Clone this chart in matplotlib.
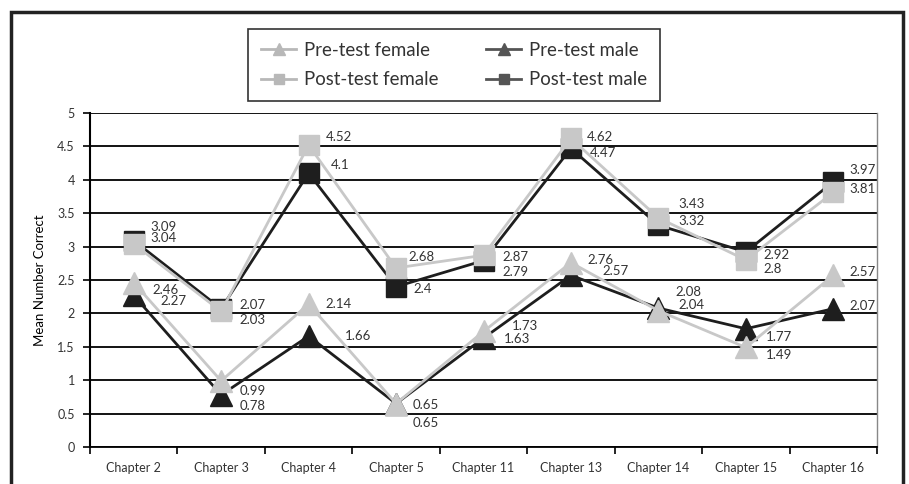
import numpy as np
import matplotlib
matplotlib.use("Agg")
import matplotlib.pyplot as plt
from matplotlib.patches import Rectangle

plt.rcParams['font.family'] = ['Lato', 'DejaVu Sans']

# --- Data ---
chapters = ["Chapter 2", "Chapter 3", "Chapter 4", "Chapter 5", "Chapter 11",
            "Chapter 13", "Chapter 14", "Chapter 15", "Chapter 16"]
pre_female = [2.46, 0.99, 2.14, 0.65, 1.73, 2.76, 2.04, 1.49, 2.57]
pre_male = [2.27, 0.78, 1.66, 0.65, 1.63, 2.57, 2.08, 1.77, 2.07]
post_female = [3.04, 2.03, 4.52, 2.68, 2.87, 4.62, 3.43, 2.8, 3.81]
post_male = [3.09, 2.07, 4.1, 2.4, 2.79, 4.47, 3.32, 2.92, 3.97]

# label nudges in pixels (dx right, dy up) - hand placed like the original
off_pre_female = [(19, -7), (18, -10), (17, 0), (17, -1), (28, 5), (16, 3), (20, 6), (20, -8), (16, 3)]
off_pre_male = [(27, -6), (18, -11), (36, 0), (17, -19), (20, -1), (31, 4), (17, 16), (20, -8), (16, 3)]
off_post_female = [(17, 6), (18, -9), (17, 8), (12, 11), (19, -2), (16, 1), (20, 14), (18, -9), (16, 3)]
off_post_male = [(17, 14), (18, 4), (22, 8), (17, -2), (19, -11), (19, -5), (20, 4), (18, -3), (16, 12)]

LIGHT = "#c8c8c8"
DARK = "#1e1e1e"
TXT = "#333333"

fig = plt.figure(figsize=(9.09, 4.84), dpi=100)
ax = fig.add_axes([90 / 909, 1 - 447 / 484, 787 / 909, 334 / 484])
x = np.arange(len(chapters))

# --- Lines (male first so female sits on top) ---
h_pm, = ax.plot(x, post_male, color=DARK, lw=2, marker="s", ms=14, zorder=3)
h_prm, = ax.plot(x, pre_male, color=DARK, lw=2, marker="^", ms=16, zorder=3)
h_pf, = ax.plot(x, post_female, color=LIGHT, lw=2, marker="s", ms=14, zorder=4)
h_prf, = ax.plot(x, pre_female, color=LIGHT, lw=2, marker="^", ms=16, zorder=4)

# --- Data labels ---
px = 72 / 100
for vals, offs in ((post_male, off_post_male), (post_female, off_post_female),
                   (pre_male, off_pre_male), (pre_female, off_pre_female)):
    for i, v in enumerate(vals):
        dx, dy = offs[i]
        ax.annotate(f"{v:g}", (x[i], v), xytext=(dx * px, dy * px),
                    textcoords="offset points", ha="left", va="center",
                    fontsize=9.5, color=TXT, zorder=5)

# --- Axes styling ---
ax.set_xlim(-0.5, len(chapters) - 0.5)
ax.set_ylim(0, 5)
ax.set_yticks(np.arange(0, 5.01, 0.5))
ax.set_yticklabels(["0", "0.5", "1", "1.5", "2", "2.5", "3", "3.5", "4", "4.5", "5"])
ax.yaxis.grid(True, color="black", lw=1.3)
ax.set_axisbelow(True)
ax.set_xticks(np.arange(-0.5, len(chapters)), labels=[""] * (len(chapters) + 1))
ax.set_xticks(x, labels=chapters, minor=True)
ax.tick_params(axis="x", which="major", length=5, width=1.2, color="black", direction="out")
ax.tick_params(axis="x", which="minor", length=0, labelsize=9, labelcolor=TXT, pad=11)
ax.tick_params(axis="y", length=5, width=1.2, labelsize=9, labelcolor=TXT, pad=6)
ax.spines["left"].set_linewidth(1.5)
ax.spines["left"].set_color("black")
ax.spines["bottom"].set_linewidth(1.3)
ax.spines["top"].set_visible(False)
ax.spines["right"].set_color("#888888")
ax.spines["right"].set_linewidth(1)
ax.set_ylabel("Mean Number Correct", fontsize=9.5, color="black", labelpad=8)

# --- Legend ---
leg = fig.legend([h_prf, h_pf, h_prm, h_pm],
                 ["Pre-test female", "Post-test female", "Pre-test male", "Post-test male"],
                 ncol=2, loc="center", mode="expand",
                 bbox_to_anchor=(248 / 909, 1 - 102 / 484, 412 / 909, 74 / 484),
                 fontsize=13.4, frameon=True, fancybox=False, edgecolor="black",
                 handlelength=1.9, handletextpad=0.4, columnspacing=1.5,
                 labelspacing=0.65, borderpad=0.7, borderaxespad=0, markerscale=0.5)
leg.get_frame().set_linewidth(1.2)
for t in leg.get_texts():
    t.set_color(TXT)
for lh, c in zip(leg.legend_handles, ["#b8b8b8", "#b8b8b8", "#555555", "#555555"]):
    lh.set_color(c)

# --- Outer frame ---
fig.patches.append(Rectangle((11 / 909, -0.05), 892 / 909, 1.05 - 12 / 484,
                             transform=fig.transFigure, fill=False,
                             edgecolor="#222222", lw=2.5, zorder=10))

fig.savefig("out.png", dpi=100)
plt.close()
